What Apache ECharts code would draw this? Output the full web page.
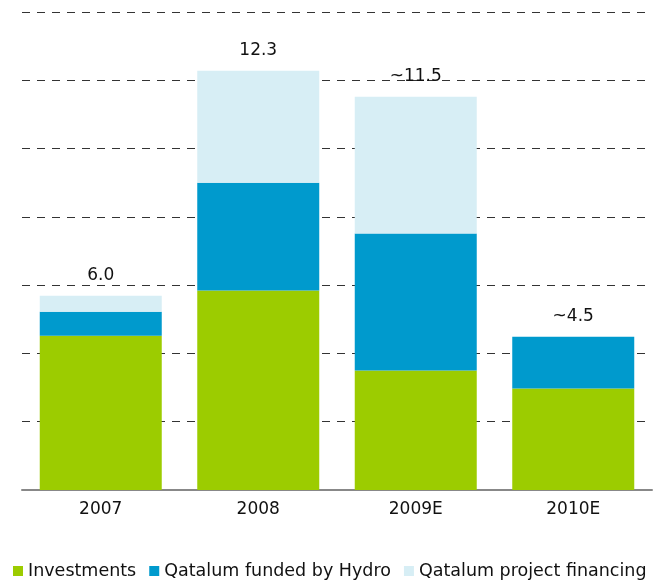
<!DOCTYPE html>
<html>
<head>
<meta charset="utf-8">
<script src="https://cdn.jsdelivr.net/npm/echarts@6/dist/echarts.min.js"></script>
<style>
html,body{margin:0;padding:0;background:#fff;}
#c{width:653px;height:580px;}
</style>
</head>
<body>
<div id="c"></div>
<script>
const categories = ["2007", "2008", "2009E", "2010E"];
const investments = [4.52, 5.84, 3.50, 2.97];
const fundedByHydro = [0.70, 3.16, 4.01, 1.52];
const projectFinancing = [0.47, 3.28, 4.01, 0];
const totalLabels = ["6.0", "12.3", "~11.5", "~4.5"];
const seriesNames = ["Investments", "Qatalum funded by Hydro", "Qatalum project financing"];
const colors = ["#9ccc00", "#009acd", "#d7eef5"];

const chart = echarts.init(document.getElementById('c'));
const font = 'DejaVu Sans, Verdana, sans-serif';
chart.setOption({
  animation: false,
  textStyle: { fontFamily: font },
  grid: { left: 22, right: 1, top: 12, bottom: 90 },
  legend: {
    data: seriesNames,
    left: 8, bottom: -5,
    itemWidth: 10, itemHeight: 10, itemGap: 13,
    icon: 'rect',
    textStyle: { fontSize: 17.5, color: '#111', fontFamily: font }
  },
  xAxis: {
    type: 'category', data: categories,
    axisLine: { lineStyle: { color: '#888', width: 2 } },
    axisTick: { show: false },
    axisLabel: { fontSize: 17, color: '#111', margin: 11, fontFamily: font }
  },
  yAxis: {
    type: 'value', min: 0, max: 14, interval: 2,
    axisLabel: { show: false },
    axisLine: { show: false }, axisTick: { show: false },
    splitLine: { lineStyle: { color: '#333', type: [8, 7], width: 1 } }
  },
  series: [
    { name: seriesNames[0], type: 'bar', stack: 's', data: investments, barWidth: 122, itemStyle: { color: colors[0] } },
    { name: seriesNames[1], type: 'bar', stack: 's', data: fundedByHydro, barWidth: 122, itemStyle: { color: colors[1] } },
    { name: seriesNames[2], type: 'bar', stack: 's', data: projectFinancing, barWidth: 122, itemStyle: { color: colors[2] } },
    { name: 'labels', type: 'bar', stack: 's', data: categories.map(() => 0), barWidth: 122,
      itemStyle: { color: 'transparent' },
      label: { show: true, position: 'top', distance: 12, fontSize: 17, color: '#111', fontFamily: font,
        formatter: p => totalLabels[p.dataIndex] } }
  ]
});
</script>
</body>
</html>
